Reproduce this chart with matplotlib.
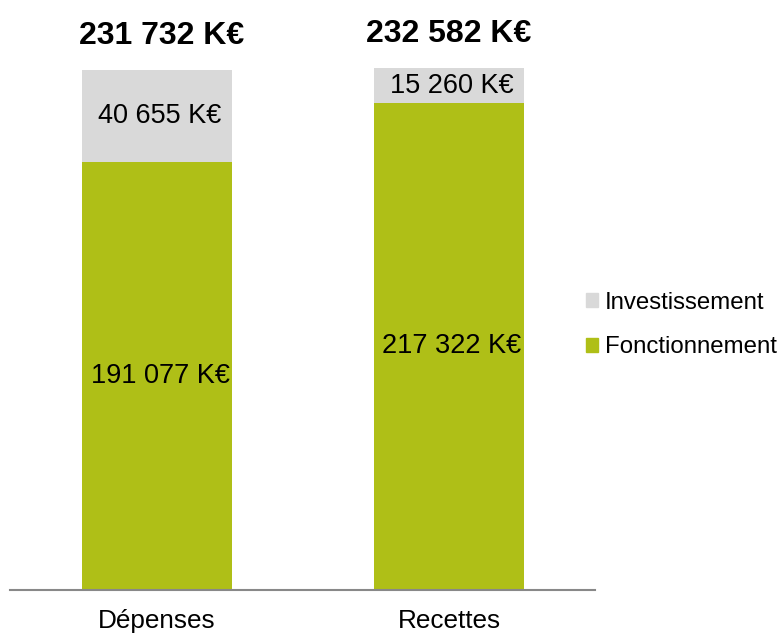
import matplotlib
matplotlib.use("Agg")
import matplotlib.pyplot as plt
from matplotlib.patches import Patch

plt.rcParams['font.family'] = ['Liberation Sans', 'DejaVu Sans']

categories = ["Dépenses", "Recettes"]
fonctionnement = [191077, 217322]
investissement = [40655, 15260]
totals = [231732, 232582]
series_names = ["Fonctionnement", "Investissement"]

GREEN = "#AFBF17"
GREY = "#D9D9D9"

def fmt(v):
    return f"{v:,}".replace(",", " ") + " K€"

fig = plt.figure(figsize=(7.82, 6.33), dpi=100)
ax = fig.add_axes([10/782, 43/633, 585/782, 583/633])

x = list(range(len(categories)))
w = 0.514
ax.bar(x, fonctionnement, width=w, color=GREEN, label=series_names[0])
ax.bar(x, investissement, width=w, bottom=fonctionnement, color=GREY, label=series_names[1])

for i in x:
    ax.annotate(fmt(fonctionnement[i]), (i, fonctionnement[i] / 2), xytext=(2.2, 0),
                textcoords="offset points", ha="center", va="center", fontsize=19.5)
    ax.annotate(fmt(investissement[i]), (i, fonctionnement[i] + investissement[i] / 2), xytext=(2.2, 0),
                textcoords="offset points", ha="center", va="center", fontsize=19.5)
    ax.annotate(fmt(totals[i]), (i, totals[i] + 15500), xytext=(3.5 if i == 0 else 0, 0),
                textcoords="offset points", ha="center", va="center",
                fontsize=23, fontweight="bold")

ax.set_xlim(-0.503, 1.5)
ax.set_ylim(0, 260000)
ax.set_xticks(x)
ax.set_xticklabels(categories, fontsize=18.8)
ax.tick_params(axis="x", length=0, pad=14)
ax.set_yticks([])
for s in ["top", "right", "left"]:
    ax.spines[s].set_visible(False)
ax.spines["bottom"].set_color("#888888")
ax.spines["bottom"].set_linewidth(1.5)

handles = [Patch(color=GREY), Patch(color=GREEN)]
fig.legend(handles, [series_names[1], series_names[0]], loc="center left",
           bbox_to_anchor=(586/782, 1 - 325/633), frameon=False, fontsize=17.3,
           handlelength=0.5, handleheight=0.5, handletextpad=0.3, labelspacing=0.94,
           borderpad=0, borderaxespad=0)

fig.savefig("out.png", dpi=100)
